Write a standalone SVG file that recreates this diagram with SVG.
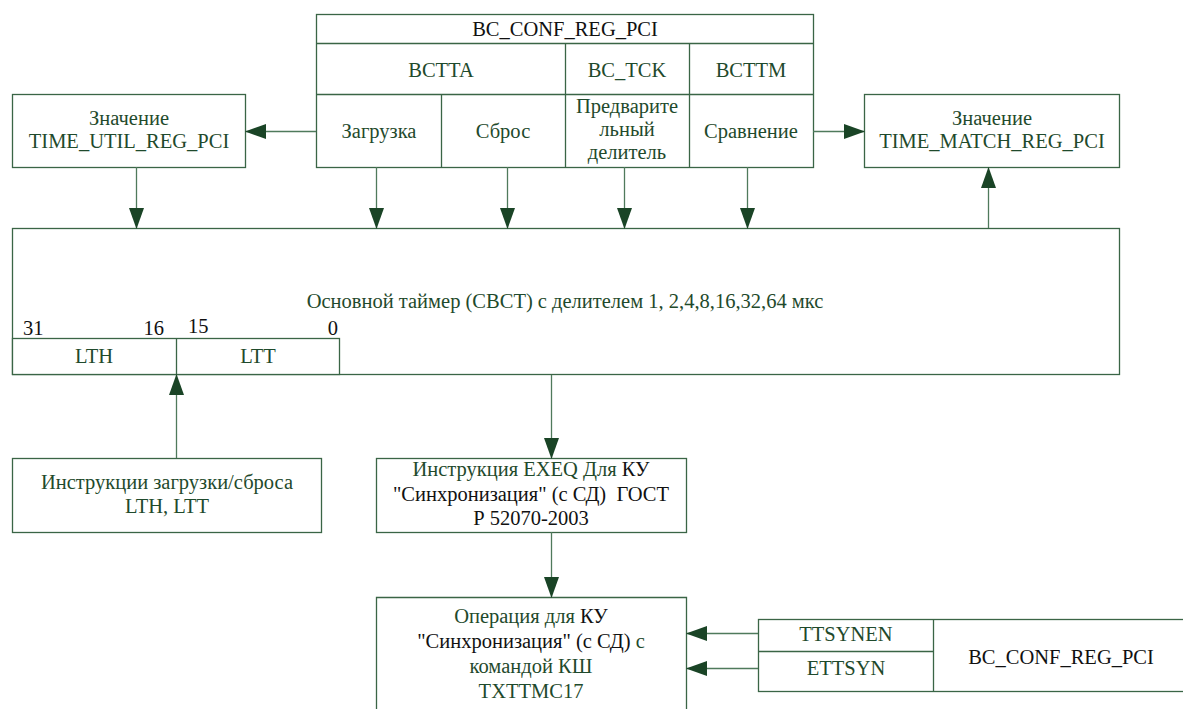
<svg xmlns="http://www.w3.org/2000/svg" width="1183" height="709" viewBox="0 0 1183 709">
<style>
.box{fill:#fff;stroke:#3a6546;stroke-width:1.3}
.ln{fill:none;stroke:#3a6546;stroke-width:1.3}
.c{stroke:#4f7a5c;stroke-width:1.3;fill:none}
text{font-family:'Liberation Serif','Times New Roman',serif;font-size:20.5px;text-anchor:middle}
.g{fill:#1f4a2c}
.k{fill:#111}
</style>
<defs>
<marker id="ah" markerUnits="userSpaceOnUse" markerWidth="22" markerHeight="16" refX="20" refY="7.5" orient="auto">
<path d="M0,0 L21,7.5 L0,15 Z" fill="#1a4426"/>
</marker>
</defs>
<rect width="1183" height="709" fill="#fff"/>

<g id="bc_conf_top">
<rect class="box" x="316.5" y="14.5" width="497" height="153"/>
<line class="ln" x1="316.5" y1="43.5" x2="813.5" y2="43.5"/>
<line class="ln" x1="316.5" y1="94.5" x2="813.5" y2="94.5"/>
<line class="ln" x1="565.5" y1="43.5" x2="565.5" y2="167.5"/>
<line class="ln" x1="689.5" y1="43.5" x2="689.5" y2="167.5"/>
<line class="ln" x1="441.5" y1="94.5" x2="441.5" y2="167.5"/>
<text class="k" x="565" y="36">BC_CONF_REG_PCI</text>
<text class="g" x="441" y="77">BCTTA</text>
<text class="g" x="627" y="77">BC_TCK</text>
<text class="g" x="751" y="77">BCTTM</text>
<text class="g" x="379" y="138">Загрузка</text>
<text class="g" x="503" y="138">Сброс</text>
<text class="g" x="627" y="113">Предварите</text>
<text class="g" x="627" y="136">льный</text>
<text class="g" x="627" y="159">делитель</text>
<text class="g" x="751" y="138">Сравнение</text>
</g>

<g id="time_util">
<rect class="box" x="12.5" y="94.5" width="233" height="73"/>
<text class="g" x="129" y="125">Значение</text>
<text class="g" x="129" y="148">TIME_UTIL_REG_PCI</text>
</g>

<g id="time_match">
<rect class="box" x="864.5" y="94.5" width="255" height="73"/>
<text class="g" x="992" y="125">Значение</text>
<text class="g" x="992" y="148">TIME_MATCH_REG_PCI</text>
</g>

<g id="main_timer">
<rect class="box" x="12.5" y="228.5" width="1107" height="146"/>
<text class="g" x="565" y="308">Основной таймер (СВСТ) с делителем 1, 2,4,8,16,32,64 мкс</text>
</g>

<g id="lth_ltt">
<rect class="box" x="12.5" y="338.5" width="327" height="36"/>
<line class="ln" x1="176.5" y1="338.5" x2="176.5" y2="374.5"/>
<text class="k" x="23" y="335" style="text-anchor:start">31</text>
<text class="k" x="164" y="335" style="text-anchor:end">16</text>
<text class="k" x="188" y="333" style="text-anchor:start">15</text>
<text class="k" x="338" y="335" style="text-anchor:end">0</text>
<text class="g" x="94" y="363">LTH</text>
<text class="g" x="258" y="363">LTT</text>
</g>

<g id="load_instr">
<rect class="box" x="12.5" y="458.5" width="309" height="74"/>
<text class="g" x="167" y="489">Инструкции загрузки/сброса</text>
<text class="g" x="167" y="513">LTH, LTT</text>
</g>

<g id="exeq">
<rect class="box" x="376.5" y="458.5" width="310" height="74"/>
<text x="531" y="476"><tspan class="g">Инструкция EXEQ Для </tspan><tspan class="k">КУ</tspan></text>
<text class="k" x="531" y="501" xml:space="preserve">"Синхронизация" (с СД)  ГОСТ</text>
<text class="k" x="531" y="525">Р 52070-2003</text>
</g>

<g id="operation">
<path class="ln" d="M376.5,712 V597.5 H686.5 V712" fill="#fff"/>
<text x="531" y="623"><tspan class="g">Операция для </tspan><tspan class="k">КУ</tspan></text>
<text x="531" y="648"><tspan class="k">"Синхронизация" (с СД) </tspan><tspan class="g">с</tspan></text>
<text class="g" x="531" y="673">командой КШ</text>
<text class="g" x="531" y="698">TXTTMC17</text>
</g>

<g id="bc_conf_bottom">
<rect class="box" x="758.5" y="619.5" width="440" height="72"/>
<line class="ln" x1="758.5" y1="651.5" x2="933.5" y2="651.5"/>
<line class="ln" x1="933.5" y1="619.5" x2="933.5" y2="691.5"/>
<text class="g" x="846" y="641">TTSYNEN</text>
<text class="g" x="846" y="675">ETTSYN</text>
<text class="k" x="1061" y="664">BC_CONF_REG_PCI</text>
</g>

<g id="connectors">
<line class="c" x1="316" y1="131.5" x2="246" y2="131.5" marker-end="url(#ah)"/>
<line class="c" x1="813" y1="131.5" x2="864" y2="131.5" marker-end="url(#ah)"/>
<line class="c" x1="136.5" y1="167" x2="136.5" y2="228" marker-end="url(#ah)"/>
<line class="c" x1="376.5" y1="167" x2="376.5" y2="228" marker-end="url(#ah)"/>
<line class="c" x1="507.5" y1="167" x2="507.5" y2="228" marker-end="url(#ah)"/>
<line class="c" x1="624.5" y1="167" x2="624.5" y2="228" marker-end="url(#ah)"/>
<line class="c" x1="747.5" y1="167" x2="747.5" y2="228" marker-end="url(#ah)"/>
<line class="c" x1="988.5" y1="228" x2="988.5" y2="168" marker-end="url(#ah)"/>
<line class="c" x1="176.5" y1="458" x2="176.5" y2="375" marker-end="url(#ah)"/>
<line class="c" x1="551.5" y1="375" x2="551.5" y2="458" marker-end="url(#ah)"/>
<line class="c" x1="551.5" y1="532" x2="551.5" y2="597" marker-end="url(#ah)"/>
<line class="c" x1="758" y1="633.5" x2="687" y2="633.5" marker-end="url(#ah)"/>
<line class="c" x1="758" y1="668.5" x2="687" y2="668.5" marker-end="url(#ah)"/>
</g>
</svg>
